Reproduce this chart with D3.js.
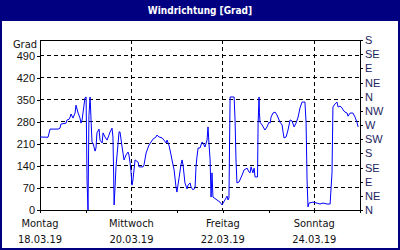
<!DOCTYPE html>
<html>
<head>
<meta charset="utf-8">
<script src="https://cdn.jsdelivr.net/npm/d3@7"></script>
<style>
  body { margin: 0; background: #fff; }
  svg { display: block; font-family: Tahoma, "DejaVu Sans Condensed", "Liberation Sans", sans-serif; }
</style>
</head>
<body>
<svg id="chart" width="400" height="250"></svg>
<script>
// Stunden seit Mo 18.03.19 00:00 und Windrichtung in Grad
const hours = [0, 4.2, 5.3, 9.5, 10.5, 11.0, 13.7, 14.2, 15.2, 15.8, 16.3, 17.3, 18.4, 18.9, 20.0, 21.0, 21.5, 22.1, 23.1, 23.6,
  24.2, 24.7, 25.2, 25.7, 26.3, 26.8, 27.3, 27.8, 28.9, 29.4, 29.9, 31.0, 31.5, 32.6, 33.1, 34.1, 35.2, 36.2, 36.8, 37.8,
  38.3, 38.6, 38.9, 39.4, 39.9, 41.0, 41.5, 42.0, 43.1, 44.1, 45.2, 46.2, 46.7, 47.3, 47.8, 48.3, 48.8, 49.9, 51.5, 52.0,
  54.1, 54.6, 55.7, 57.2, 58.3, 59.3, 60.9, 61.4, 62.5, 64.1, 65.1, 66.2, 66.7, 67.7, 68.8, 69.3, 70.4, 71.4, 71.9, 73.0,
  74.0, 74.6, 75.1, 76.1, 77.2, 77.7, 78.8, 79.3, 80.3, 81.4, 81.9, 82.4, 83.0, 84.0, 85.1, 85.6, 86.6, 87.7, 88.2, 88.7,
  89.3, 89.8, 90.3, 90.8, 92.9, 94.5, 95.6, 96.1, 97.1, 98.2, 98.7, 99.2, 99.8, 101.9, 102.4, 102.9, 103.4, 104.5, 106.1, 107.1,
  108.7, 109.7, 110.3, 110.8, 111.8, 112.4, 112.9, 114.2, 114.5, 115.0, 115.2, 115.5, 116.6, 118.1, 119.2, 120.2, 120.8, 121.3, 122.3, 123.4,
  124.4, 126.0, 127.1, 127.6, 128.1, 129.2, 130.2, 131.3, 132.3, 133.4, 134.4, 135.5, 136.5, 137.6, 139.1, 139.7, 140.2, 140.7, 141.2, 143.3,
  145.4, 147.0, 148.6, 150.7, 152.3, 153.3, 153.8, 154.9, 155.9, 156.5, 157.5, 158.6, 159.1, 160.1, 161.2, 161.7, 162.8, 164.3, 165.4, 166.4, 167.0];
const degrees = [232, 231, 257, 257, 260, 273, 276, 286, 288, 295, 305, 292, 308, 333, 308, 292, 276, 286, 333, 356,
  359, 92, 0, 300, 359, 286, 215, 213, 187, 197, 245, 257, 222, 213, 245, 232, 222, 238, 248, 260,
  232, 137, 16, 73, 137, 213, 248, 248, 200, 159, 175, 184, 175, 149, 121, 79, 95, 159, 152, 137,
  137, 143, 181, 206, 216, 225, 232, 238, 232, 229, 222, 213, 222, 206, 175, 159, 127, 73, 57, 102,
  143, 159, 143, 86, 67, 79, 86, 73, 64, 70, 137, 168, 197, 197, 216, 213, 200, 222, 264, 213,
  159, 41, 118, 41, 32, 25, 16, 22, 32, 44, 32, 38, 359, 359, 286, 159, 86, 89, 111, 127,
  133, 121, 118, 137, 118, 133, 105, 105, 276, 359, 310, 279, 270, 254, 264, 279, 276, 295, 308, 311,
  302, 279, 270, 248, 229, 232, 254, 286, 283, 264, 276, 295, 324, 343, 343, 276, 95, 10, 22, 25,
  22, 19, 22, 19, 19, 118, 327, 337, 343, 327, 330, 324, 318, 311, 308, 298, 308, 308, 295, 279, 264];

const leftTicks = [0, 70, 140, 210, 280, 350, 420, 490];
const rightTicks = [0, 45, 90, 135, 180, 225, 270, 315, 360, 405, 450, 495, 540];
const rightLabels = ["N", "NE", "E", "SE", "S", "SW", "W", "NW", "N", "NE", "E", "SE", "S"];
const dayNames = ["Montag", "Mittwoch", "Freitag", "Sonntag"];
const dayDates = ["18.03.19", "20.03.19", "22.03.19", "24.03.19"];

const start = new Date(2019, 2, 18);
const end = new Date(2019, 2, 25);
const data = hours.map((h, i) => ({ t: new Date(start.getTime() + h * 3600e3), v: degrees[i] }));
const labelDays = dayNames.map((d, i) => d3.timeDay.offset(start, i * 2));

const svg = d3.select("#chart");
const W = 400, H = 250;
const plot = { left: 40, right: 360, top: 40, bottom: 210 };
const navy = "#000080";

const x = d3.scaleTime().domain([start, end]).range([plot.left, plot.right]);
const y = d3.scaleLinear().domain([0, 540]).range([plot.bottom, plot.top]);

// Rahmen + Titelleiste
svg.append("rect").attr("x", 0).attr("y", 0).attr("width", W).attr("height", H).attr("fill", "#fff");
svg.append("rect").attr("x", 0).attr("y", 0).attr("width", W).attr("height", 21).attr("fill", navy);
svg.append("rect").attr("x", 1).attr("y", 1).attr("width", W - 2).attr("height", H - 2)
  .attr("fill", "none").attr("stroke", navy).attr("stroke-width", 2);
svg.append("text").attr("x", W / 2).attr("y", 14).attr("text-anchor", "middle")
  .attr("fill", "#fff").attr("font-weight", "bold").attr("font-size", "10px")
  .text("Windrichtung [Grad]");

// Gitter
const grid = svg.append("g").attr("stroke", "#000").attr("stroke-dasharray", "4,3").attr("shape-rendering", "crispEdges");
grid.selectAll(".hgrid").data(leftTicks.filter(d => d > 0)).join("line")
  .attr("class", "hgrid")
  .attr("x1", plot.left).attr("x2", plot.right)
  .attr("y1", d => y(d)).attr("y2", d => y(d));
grid.selectAll(".vgrid").data(labelDays.slice(1)).join("line")
  .attr("class", "vgrid")
  .attr("x1", d => x(d)).attr("x2", d => x(d))
  .attr("y1", plot.top).attr("y2", plot.bottom);

// Achsen
const yLeft = svg.append("g").attr("transform", `translate(${plot.left},0)`)
  .call(d3.axisLeft(y).tickValues(leftTicks).tickSize(3).tickPadding(2));
const yRight = svg.append("g").attr("transform", `translate(${plot.right},0)`)
  .call(d3.axisRight(y).tickValues(rightTicks).tickSize(3).tickPadding(2).tickFormat((d, i) => rightLabels[i]));
const xAxis = svg.append("g").attr("transform", `translate(0,${plot.bottom})`)
  .call(d3.axisBottom(x).ticks(d3.timeDay.every(1)).tickSize(3).tickFormat(""));

[yLeft, yRight, xAxis].forEach(g => {
  g.select(".domain").remove();
  g.attr("shape-rendering", "crispEdges");
  g.selectAll("text").attr("font-size", "11px").attr("font-family", null);
});
yLeft.selectAll("text").attr("fill", "#111");
yRight.selectAll("text").attr("fill", "#1c2560");

// Plotrahmen
svg.append("rect").attr("x", plot.left).attr("y", plot.top)
  .attr("width", plot.right - plot.left).attr("height", plot.bottom - plot.top)
  .attr("fill", "none").attr("stroke", "#000").attr("shape-rendering", "crispEdges");

svg.append("text").attr("x", 37).attr("y", 48).attr("text-anchor", "end")
  .attr("font-size", "11px").attr("fill", "#111").text("Grad");

// Tageslabels
const xl = svg.append("g").attr("font-size", "11px").attr("fill", "#111").attr("text-anchor", "middle");
xl.selectAll(".day").data(labelDays).join("text").attr("class", "day")
  .attr("x", d => x(d)).attr("y", 227).text((d, i) => dayNames[i]);
xl.selectAll(".date").data(labelDays).join("text").attr("class", "date")
  .attr("x", d => x(d)).attr("y", 243).text((d, i) => dayDates[i]);

// Linie
svg.append("path").datum(data)
  .attr("fill", "none").attr("stroke", "#0000ff").attr("stroke-width", 1)
  .attr("d", d3.line().x(d => x(d.t)).y(d => y(d.v)));
</script>
</body>
</html>
